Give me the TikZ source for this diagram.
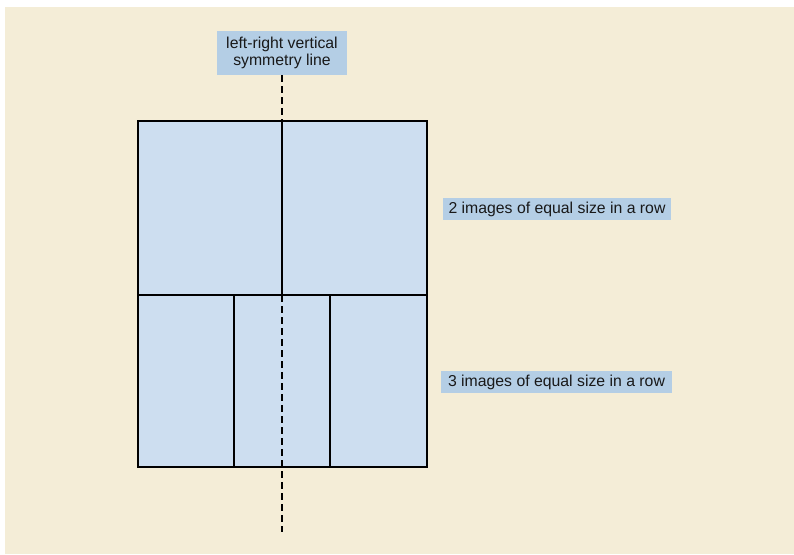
\documentclass[tikz,border=0pt]{standalone}
\usepackage{fontspec}
\setmainfont{Liberation Sans}
\definecolor{bgbeige}{HTML}{F4EDD7}
\definecolor{cellblue}{HTML}{CDDEF0}
\definecolor{labelblue}{HTML}{B4CEE5}
\tikzset{
  cell/.style={draw=black, fill=cellblue, line width=1.1pt, inner sep=0pt, anchor=center},
  lbl/.style={fill=labelblue, inner sep=0pt, align=center, font=\fontsize{15.8}{16.5}\selectfont, text=black!90},
  symline/.style={draw=black, line width=1.1pt, dash pattern=on 7pt off 4pt}
}
\begin{document}
\begin{tikzpicture}[x=1pt,y=-1pt]
\useasboundingbox (0,0) rectangle (794,554);
\fill[bgbeige] (5,7) rectangle (794,554);
% top row
\node[cell, minimum width=144pt, minimum height=174pt] (tl) at (210,208) {};
\node[cell, minimum width=145pt, minimum height=174pt] (tr) at (354.5,208) {};
% bottom row
\node[cell, minimum width=96pt, minimum height=172pt] (b1) at (186,381) {};
\node[cell, minimum width=96pt, minimum height=172pt] (b2) at (282,381) {};
\node[cell, minimum width=97pt, minimum height=172pt] (b3) at (378.5,381) {};
% labels
\node[lbl, minimum width=130pt, minimum height=44pt] (sym) at (282,53) {left-right vertical\\symmetry line};
\node[lbl, minimum width=228pt, minimum height=22pt] (two) at (557,209) {2 images of equal size in a row};
\node[lbl, minimum width=231pt, minimum height=22pt] (three) at (556.5,382) {3 images of equal size in a row};
% symmetry line
\coordinate (symend) at (282,532);
\draw[symline] (sym.south) -- (symend);
\end{tikzpicture}
\end{document}
